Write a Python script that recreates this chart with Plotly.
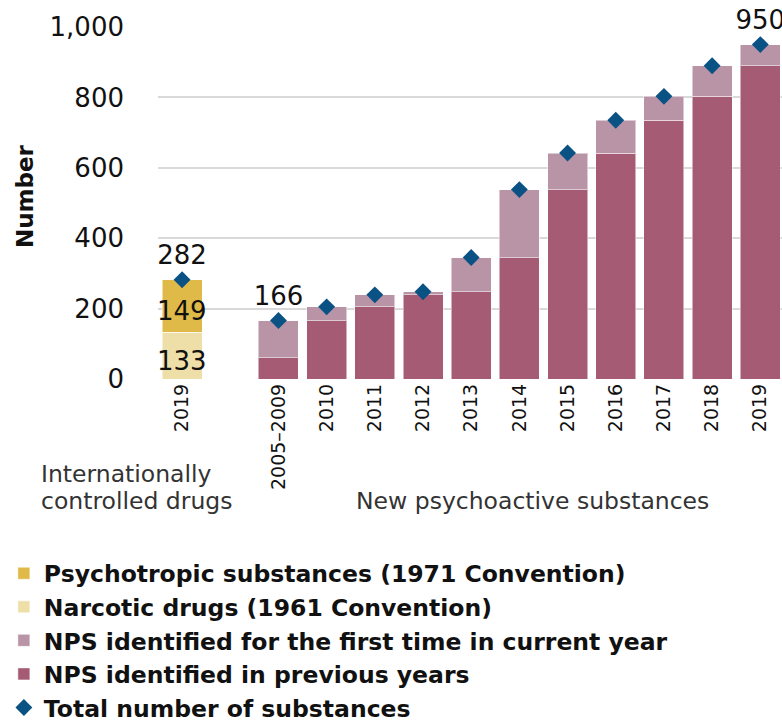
import plotly.graph_objects as go

# Internationally controlled drugs, 2019
icd_label = "2019"
narcotic = 133
psychotropic = 149
icd_total = 282

# New psychoactive substances
nps_years = ["2005–2009", "2010", "2011", "2012", "2013", "2014",
             "2015", "2016", "2017", "2018", "2019"]
nps_total = [166, 205, 239, 248, 345, 538, 642, 735, 803, 890, 950]
nps_previous = [60, 166, 205, 239, 248, 345, 538, 642, 735, 803, 890]
nps_first = [t - p for t, p in zip(nps_total, nps_previous)]

# value labels shown above the diamonds
icd_total_label = "282"
nps_total_labels = {"2005–2009": "166", "2019": "950"}

# x positions: ICD bar, one empty slot, then the NPS years
icd_x = 0
nps_x = list(range(2, 2 + len(nps_years)))

C_PSYCHO = "#E0BA48"
C_NARC = "#EEDFA8"
C_FIRST = "#B894A6"
C_PREV = "#A65B74"
C_TOTAL = "#0B5284"

FONT = "DejaVu Sans"

fig = go.Figure()

bar_kws = dict(width=0.83, marker_line=dict(width=1, color="rgba(255,255,255,0.5)"))

# stacking goes bottom-up in trace order; legendrank sets legend order
fig.add_trace(go.Bar(
    x=[icd_x], y=[narcotic], name="Narcotic drugs (1961 Convention)",
    marker_color=C_NARC, legendrank=2, **bar_kws,
))
fig.add_trace(go.Bar(
    x=[icd_x], y=[psychotropic], name="Psychotropic substances (1971 Convention)",
    marker_color=C_PSYCHO, legendrank=1, **bar_kws,
))
fig.add_trace(go.Bar(
    x=nps_x, y=nps_previous, name="NPS identified in previous years",
    marker_color=C_PREV, legendrank=4, **bar_kws,
))
fig.add_trace(go.Bar(
    x=nps_x, y=nps_first, name="NPS identified for the first time in current year",
    marker_color=C_FIRST, legendrank=3, **bar_kws,
))

# diamonds with totals
all_x = [icd_x] + nps_x
all_totals = [icd_total] + nps_total
texts = [icd_total_label] + [nps_total_labels.get(y, "") if i in (0, len(nps_years) - 1) else ""
                             for i, y in enumerate(nps_years)]
fig.add_trace(go.Scatter(
    x=all_x, y=all_totals, mode="markers+text", name="Total number of substances",
    marker=dict(symbol="diamond", size=13, color=C_TOTAL),
    text=texts, textposition="top center",
    textfont=dict(family=FONT, size=26, color="#111111"),
    cliponaxis=False, legendrank=5,
))

# numbers inside the ICD bar
for val, mid in [(narcotic, narcotic / 2), (psychotropic, narcotic + psychotropic / 2)]:
    fig.add_annotation(
        x=icd_x, y=mid, text=str(val), showarrow=False, yshift=-5,
        font=dict(family=FONT, size=26, color="#111111"),
    )

# the page is 722px tall; the figure runs a little past it so the legend is not squeezed
fig.update_layout(
    width=782, height=745,
    margin=dict(l=158, r=0, t=27, b=366, autoexpand=False),
    barmode="stack",
    plot_bgcolor="white", paper_bgcolor="white",
    showlegend=True,
    legend=dict(
        x=-0.247, y=-0.49, xanchor="left", yanchor="top",
        font=dict(family=FONT, size=23.5, color="#111111", weight="bold"),
        traceorder="normal", tracegroupgap=0, itemwidth=30,
    ),
)

fig.update_xaxes(
    range=[-0.5, 12.45],
    tickvals=all_x, ticktext=[icd_label] + nps_years,
    tickangle=-90, tickfont=dict(family=FONT, size=19, color="#111111"),
    showgrid=False, zeroline=False, showline=False, ticks="",
)
fig.update_yaxes(
    range=[0, 1000], dtick=200, tickformat=",",
    tickfont=dict(family=FONT, size=26, color="#111111"),
    showgrid=True, gridcolor="#D9D9D9", gridwidth=1.5,
    zeroline=False, showline=False, ticklabelstandoff=33,
)

fig.add_annotation(
    text="<b>Number</b>", xref="paper", yref="paper", x=-0.213, y=0.52,
    textangle=-90, showarrow=False, xanchor="center", yanchor="middle",
    font=dict(family=FONT, size=23, color="#111111"),
)
ann_font = dict(family=FONT, size=23.5, color="#333333")
fig.add_annotation(
    text="Internationally", xref="paper", yref="paper",
    x=-0.19, y=-0.27, xanchor="left", yanchor="middle",
    showarrow=False, font=ann_font,
)
fig.add_annotation(
    text="controlled drugs", xref="paper", yref="paper",
    x=-0.19, y=-0.347, xanchor="left", yanchor="middle",
    showarrow=False, font=ann_font,
)
fig.add_annotation(
    text="New psychoactive substances", xref="paper", yref="paper",
    x=0.60, y=-0.347, xanchor="center", yanchor="middle",
    showarrow=False, font=ann_font,
)

fig.write_html(
    "out.html",
    config={"displayModeBar": False},
    post_script="document.body.style.margin='0';document.body.style.overflow='hidden';",
)
